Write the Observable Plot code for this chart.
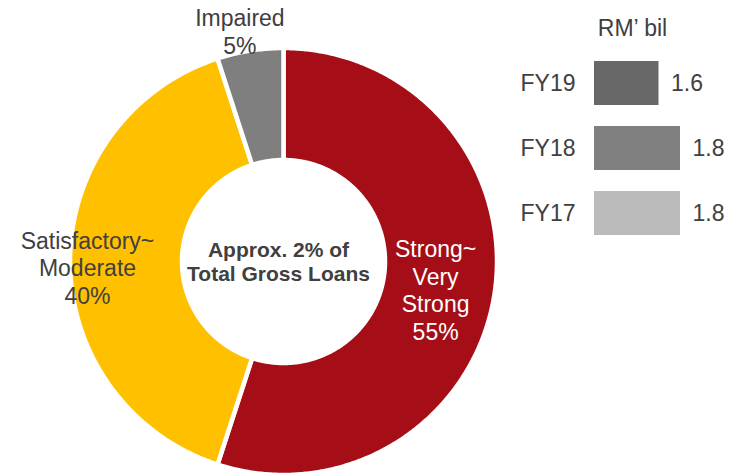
<!DOCTYPE html>
<html>
<head>
<meta charset="utf-8">
<script src="https://cdn.jsdelivr.net/npm/d3@7"></script>
<script src="https://cdn.jsdelivr.net/npm/@observablehq/plot@0.6"></script>
<style>
  html, body { margin: 0; padding: 0; background: #ffffff; }
  #chart { position: relative; width: 730px; height: 474px; font-family: "Liberation Sans", Arial, sans-serif; }
  #chart svg { position: absolute; top: 0; }
</style>
</head>
<body>
<div id="chart"></div>
<script>
// ---- data ----
const segments = ["Strong~\nVery\nStrong", "Satisfactory~\nModerate", "Impaired"];
const shares = [55, 40, 5];
const segmentColors = ["#A50E16", "#FFC000", "#7F7F7F"];
const centerNote = "Approx. 2% of\nTotal Gross Loans";

const years = ["FY19", "FY18", "FY17"];
const amounts = [1.6, 1.8, 1.8];
const yearColors = ["#686868", "#808080", "#BBBBBB"];
const unitLabel = "RM\u2019 bil";
const axisStart = 1.0;

// ---- layout ----
const W = 730, H = 474;
const cx = 283, cy = 261, R = 213.5, r = 101.5;
const labelLayout = [
  {rho: 154, dx: 0, dy: 4, fill: "#ffffff"},
  {rho: 196, dx: 0, dy: 6, fill: "#404040"},
  {rho: 234, dx: -7, dy: 1, fill: "#404040"}
];
const font = "'Liberation Sans', Arial, sans-serif";

const slices = segments.map((name, i) => ({name, share: shares[i], color: segmentColors[i], i}));
const arcs = d3.pie().sort(null).value(d => d.share)(slices);

const ringPts = [];
arcs.forEach(p => {
  const span = p.endAngle - p.startAngle;
  const n = Math.max(2, Math.ceil(span / (Math.PI / 360)));
  for (let k = 0; k <= n; k++) {
    const a = p.startAngle + span * k / n;
    ringPts.push({seg: p.data.i, color: p.data.color, px: cx + R * Math.sin(a), py: cy - R * Math.cos(a)});
  }
  for (let k = n; k >= 0; k--) {
    const a = p.startAngle + span * k / n;
    ringPts.push({seg: p.data.i, color: p.data.color, px: cx + r * Math.sin(a), py: cy - r * Math.cos(a)});
  }
});

const labels = arcs.map(p => {
  const L = labelLayout[p.data.i];
  const a = (p.startAngle + p.endAngle) / 2;
  return {
    text: `${p.data.name}\n${p.data.share}%`,
    lx: cx + L.rho * Math.sin(a) + L.dx,
    ly: cy - L.rho * Math.cos(a) + L.dy,
    fill: L.fill
  };
});

const donut = Plot.plot({
  width: W, height: H, margin: 0,
  x: {type: "linear", domain: [0, W], range: [0, W], axis: null},
  y: {type: "linear", domain: [0, H], range: [0, H], axis: null},
  color: {type: "identity"},
  style: {fontFamily: font, background: "transparent"},
  marks: [
    Plot.line(ringPts, {x: "px", y: "py", z: "seg", fill: "color", stroke: "#ffffff", strokeWidth: 4.5, curve: "linear-closed"}),
    Plot.text(labels, {x: "lx", y: "ly", text: "text", fill: "fill", fontSize: 23, lineHeight: 1.2, textAnchor: "middle"}),
    Plot.text([centerNote], {x: () => cx - 5, y: () => cy, text: d => d, fontSize: 21, fontWeight: "bold", lineHeight: 1.143, fill: "#404040"})
  ]
});
donut.style.left = "0px";

const rows = years.map((year, i) => ({year, amount: amounts[i], color: yearColors[i]}));
const bars = Plot.plot({
  width: 230, height: 260, margin: 0,
  x: {type: "linear", domain: [axisStart, d3.max(amounts)], range: [94, 180], axis: null},
  y: {type: "band", domain: years, range: [40, 256], padding: 0.323, axis: null},
  color: {type: "identity"},
  style: {fontFamily: font, background: "transparent"},
  marks: [
    Plot.barX(rows, {x1: () => axisStart, x2: "amount", y: "year", fill: "color"}),
    Plot.text(rows, {x: () => axisStart, y: "year", text: "year", textAnchor: "end", dx: -19, fontSize: 23, fill: "#404040"}),
    Plot.text(rows, {x: "amount", y: "year", text: d => d.amount.toFixed(1), textAnchor: "start", dx: 12, fontSize: 23, fill: "#404040"}),
    Plot.text([unitLabel], {frameAnchor: "top-left", text: d => d, dx: 132, dy: 19, lineAnchor: "top", textAnchor: "middle", fontSize: 23, fill: "#404040"})
  ]
});
bars.style.left = "500px";

const chart = document.getElementById("chart");
chart.appendChild(donut);
chart.appendChild(bars);
</script>
</body>
</html>
